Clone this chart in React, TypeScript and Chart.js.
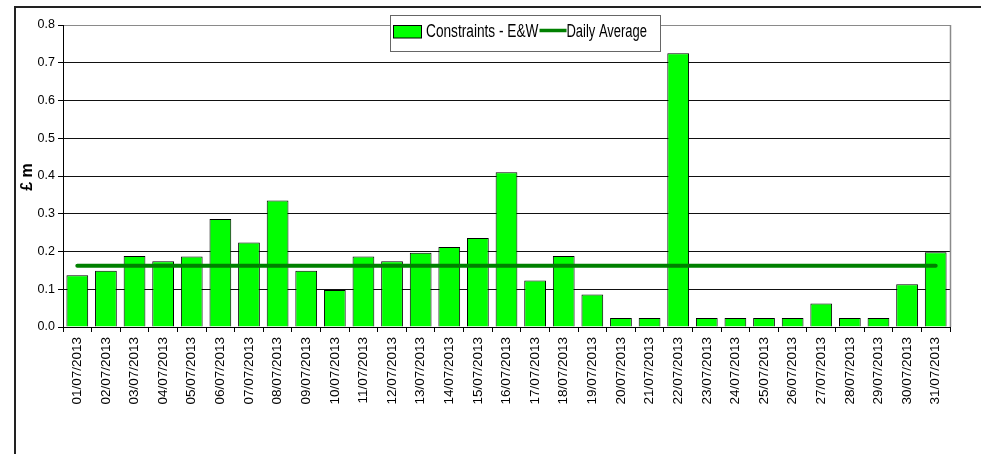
import React, { useEffect, useRef } from "react";
import { Chart, registerables } from "chart.js";

Chart.register(...registerables);

const dates = [
  "01/07/2013", "02/07/2013", "03/07/2013", "04/07/2013", "05/07/2013", "06/07/2013",
  "07/07/2013", "08/07/2013", "09/07/2013", "10/07/2013", "11/07/2013", "12/07/2013",
  "13/07/2013", "14/07/2013", "15/07/2013", "16/07/2013", "17/07/2013", "18/07/2013",
  "19/07/2013", "20/07/2013", "21/07/2013", "22/07/2013", "23/07/2013", "24/07/2013",
  "25/07/2013", "26/07/2013", "27/07/2013", "28/07/2013", "29/07/2013", "30/07/2013",
  "31/07/2013",
];

const constraints = [
  0.137, 0.149, 0.188, 0.174, 0.187, 0.286, 0.224, 0.335, 0.149, 0.098, 0.187, 0.174,
  0.197, 0.212, 0.236, 0.41, 0.123, 0.188, 0.086, 0.024, 0.024, 0.725, 0.024, 0.024,
  0.024, 0.024, 0.062, 0.024, 0.024, 0.113, 0.198,
];

const dailyAverage = [
  0.162, 0.162, 0.162, 0.162, 0.162, 0.162, 0.162, 0.162, 0.162, 0.162, 0.162, 0.162,
  0.162, 0.162, 0.162, 0.162, 0.162, 0.162, 0.162, 0.162, 0.162, 0.162, 0.162, 0.162,
  0.162, 0.162, 0.162, 0.162, 0.162, 0.162, 0.162,
];

const yMin = 0;
const yMax = 0.8;
const yStep = 0.1;
const yTitle = "£ m";

const FONT = "'Liberation Sans', Arial, sans-serif";
const BAR_GREEN = "#00FF00";
const LINE_GREEN = "#008000";

const decorPlugin = {
  id: "decor",
  afterDraw(chart: any) {
    const ctx = chart.ctx as CanvasRenderingContext2D;
    const area = chart.chartArea;
    ctx.save();

    // outer frame (left and top edges visible)
    ctx.strokeStyle = "#222";
    ctx.lineWidth = 2;
    ctx.beginPath();
    ctx.moveTo(15, chart.height);
    ctx.lineTo(15, 7);
    ctx.lineTo(chart.width, 7);
    ctx.stroke();

    // plot area right border (grey)
    ctx.strokeStyle = "#8a8a8a";
    ctx.lineWidth = 1.5;
    ctx.beginPath();
    ctx.moveTo(Math.round(area.right) + 0.5, Math.round(area.top));
    ctx.lineTo(Math.round(area.right) + 0.5, Math.round(area.bottom));
    ctx.stroke();

    // y axis title
    ctx.save();
    ctx.translate(28, (area.top + area.bottom) / 2 + 1);
    ctx.rotate(-Math.PI / 2);
    ctx.fillStyle = "#000";
    ctx.font = `bold 16px ${FONT}`;
    ctx.textAlign = "center";
    ctx.textBaseline = "middle";
    ctx.fillText(yTitle, 0, 0);
    ctx.restore();

    // legend
    const ds = chart.data.datasets;
    const bar = ds.find((d: any) => d.type !== "line");
    const line = ds.find((d: any) => d.type === "line");
    const bx = 390.5, by = 15.5, bw = 270, bh = 36;
    ctx.fillStyle = "#fff";
    ctx.fillRect(bx, by, bw, bh);
    ctx.strokeStyle = "#666";
    ctx.lineWidth = 1;
    ctx.strokeRect(bx, by, bw, bh);

    const cy = 31.5;
    ctx.fillStyle = bar.backgroundColor;
    ctx.fillRect(393.5, 25.5, 28, 12.5);
    ctx.strokeStyle = "#000";
    ctx.strokeRect(393.5, 25.5, 28, 12.5);

    const sx = 0.76;
    ctx.font = `18px ${FONT}`;
    ctx.fillStyle = "#000";
    ctx.textBaseline = "middle";
    ctx.textAlign = "left";
    ctx.save();
    ctx.translate(426, cy + 1);
    ctx.scale(sx, 1);
    ctx.fillText(bar.label, 0, 0);
    const w1 = ctx.measureText(bar.label).width * sx;
    ctx.restore();

    const lx0 = 426 + w1 + 1;
    const lx1 = lx0 + 27;
    ctx.strokeStyle = line.borderColor;
    ctx.lineWidth = 3.5;
    ctx.beginPath();
    ctx.moveTo(lx0, cy - 1);
    ctx.lineTo(lx1, cy - 1);
    ctx.stroke();

    ctx.save();
    ctx.translate(lx1, cy + 1);
    ctx.scale(0.72, 1);
    ctx.fillStyle = "#000";
    ctx.fillText(line.label, 0, 0);
    ctx.restore();

    ctx.restore();
  },
};

export default function App() {
  const ref = useRef<HTMLCanvasElement | null>(null);

  useEffect(() => {
    if (!ref.current) return;
    const chart = new Chart(ref.current, {
      type: "bar",
      data: {
        labels: dates,
        datasets: [
          {
            type: "bar",
            label: "Constraints - E&W",
            data: constraints,
            backgroundColor: BAR_GREEN,
            borderColor: "#000",
            borderWidth: 1,
            barPercentage: 0.76,
            categoryPercentage: 1,
            order: 2,
          } as any,
          {
            type: "line",
            label: "Daily Average",
            data: dailyAverage,
            borderColor: LINE_GREEN,
            backgroundColor: LINE_GREEN,
            borderWidth: 4,
            borderCapStyle: "round",
            pointRadius: 0,
            tension: 0,
            order: 1,
          } as any,
        ],
      },
      options: {
        responsive: false,
        animation: false,
        layout: { padding: { left: 0, right: 31, top: 25, bottom: 0 } },
        plugins: {
          legend: { display: false },
          tooltip: { enabled: false },
          title: { display: false },
        },
        scales: {
          x: {
            offset: true,
            grid: {
              display: true,
              drawOnChartArea: false,
              drawTicks: true,
              tickLength: 5,
              color: "#000",
              offset: true,
            },
            border: { color: "#000", width: 1 },
            ticks: {
              autoSkip: false,
              maxRotation: 90,
              minRotation: 90,
              padding: 5,
              color: "#000",
              font: { family: FONT, size: 13.5 },
            },
            afterFit(s: any) {
              s.height = 127;
            },
          },
          y: {
            min: yMin,
            max: yMax,
            ticks: {
              stepSize: yStep,
              padding: 3,
              color: "#000",
              font: { family: FONT, size: 12.5 },
              callback: (v: any) => Number(v).toFixed(1),
            },
            grid: {
              color: (c: any) => (c.tick && Math.abs(c.tick.value - yMax) < 1e-6 ? "#8a8a8a" : "#111"),
              tickColor: "#000",
              tickLength: 5,
            },
            border: { color: "#000", width: 1 },
            afterFit(s: any) {
              s.width = 63;
            },
          },
        },
      },
      plugins: [decorPlugin],
    });
    return () => chart.destroy();
  }, []);

  return (
    <div style={{ position: "fixed", left: 0, top: 0, width: 981, height: 454, background: "#fff" }}>
      <canvas ref={ref} width={981} height={454} style={{ display: "block" }} />
    </div>
  );
}
